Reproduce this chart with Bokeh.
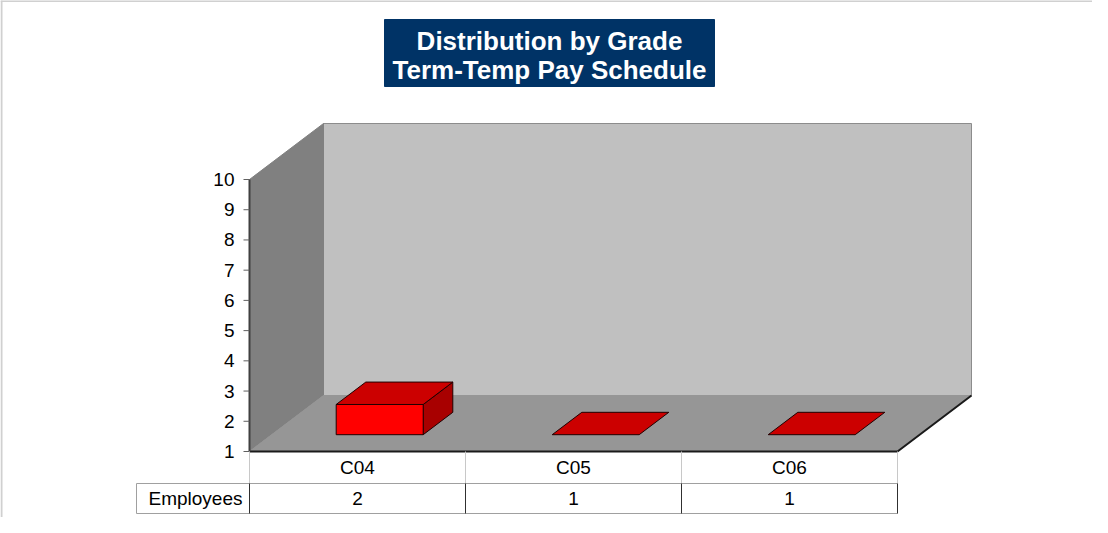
from bokeh.plotting import figure
from bokeh.models import Range1d
from bokeh.core.properties import value
from bokeh.embed import file_html
from bokeh.resources import INLINE

# ---- data ----
categories = ["C04", "C05", "C06"]
employees = [2, 1, 1]
y_ticks = [1, 2, 3, 4, 5, 6, 7, 8, 9, 10]
title_lines = ["Distribution by Grade", "Term-Temp Pay Schedule"]
row_label = "Employees"
y_min, y_max = 1, 10

# ---- layout (page pixels -> data units) ----
W, H = 1092, 517
OX, OY = 0, 0                   # page offset of the figure
X0, PXU = 249.0, 216.0          # x=0 at page px 249, 216 px per category
Y0, PYU = 451.0, 272.0 / 9.0    # y=1 at page py 451


def dx(px):
    return (px - X0) / PXU


def dy(py):
    return y_min + (Y0 - py) / PYU


n = len(categories)
DX = 74.0 / PXU     # depth offset in x
DY = 56.0 / PYU     # depth offset in y
F0, F1 = 0.30, 0.70  # bar depth position (fraction of depth)
BW = 87.0 / PXU      # bar width

FONT = value("Liberation Sans")

p = figure(width=W, height=H, output_backend="svg", toolbar_location=None,
           x_range=Range1d(dx(OX), dx(OX + W)), y_range=Range1d(dy(OY + H), dy(OY)),
           x_axis_location=None, y_axis_location=None, min_border=0)
p.grid.visible = False
p.outline_line_color = None
p.background_fill_color = "white"
p.border_fill_color = "white"

# outer light border (top & left)
p.segment(x0=[dx(OX), dx(OX + 1)], y0=[dy(OY + 0.5), dy(OY)],
          x1=[dx(OX + W), dx(OX + 1)], y1=[dy(OY + 0.5), dy(OY + H)],
          line_color="#D0D0D0", line_width=2)

# ---- walls and floor ----
p.patch([DX, n + DX, n + DX, DX], [y_min + DY, y_min + DY, y_max + DY, y_max + DY],
        fill_color="#C0C0C0", line_color="#8C8C8C", line_width=1)
p.patch([0, DX, DX, 0], [y_min, y_min + DY, y_max + DY, y_max],
        fill_color="#808080", line_color="#808080", line_width=1)
p.patch([0, n, n + DX, DX], [y_min, y_min, y_min + DY, y_min + DY],
        fill_color="#969696", line_color="#969696", line_width=1)
# floor front and right edges
p.line([0, n, n + DX], [y_min, y_min, y_min + DY], line_color="#1A1A1A", line_width=2)

# ---- bars ----
front_x, front_y, top_x, top_y, side_x, side_y = [], [], [], [], [], []
for i, v in enumerate(employees):
    c = i + 0.5 + F0 * DX
    l, r = c - BW / 2, c + BW / 2
    b, t = y_min + F0 * DY, v + F0 * DY
    ddx, ddy = (F1 - F0) * DX, (F1 - F0) * DY
    if v > y_min:
        front_x.append([l, r, r, l])
        front_y.append([b, b, t, t])
        side_x.append([r, r + ddx, r + ddx, r])
        side_y.append([b, b + ddy, t + ddy, t])
    top_x.append([l, r, r + ddx, l + ddx])
    top_y.append([t, t, t + ddy, t + ddy])

p.patches(side_x, side_y, fill_color="#A80000", line_color="#200000", line_width=1)
p.patches(front_x, front_y, fill_color="#FF0000", line_color="#200000", line_width=1)
p.patches(top_x, top_y, fill_color="#CC0000", line_color="#200000", line_width=1)

# ---- y axis ----
p.segment(x0=[0], y0=[y_min], x1=[0], y1=[y_max], line_color="#404040", line_width=2)
p.segment(x0=[dx(243)] * len(y_ticks), y0=y_ticks, x1=[0] * len(y_ticks), y1=y_ticks,
          line_color="#606060", line_width=1)
p.text(x=[dx(234)] * len(y_ticks), y=y_ticks, text=[str(t) for t in y_ticks],
       text_align="right", text_baseline="middle", text_font=FONT,
       text_font_size="19px", text_color="#000000")

# ---- data table ----
r0, r1, r2 = y_min, dy(483), dy(513)
left = dx(136)
# header row separators (light)
p.segment(x0=list(range(n + 1)), y0=[r0] * (n + 1), x1=list(range(n + 1)), y1=[r1] * (n + 1),
          line_color="#C8C8C8", line_width=1)
# horizontal lines
p.segment(x0=[left, left], y0=[r1, r2], x1=[n, n], y1=[r1, r2], line_color="#A0A0A0", line_width=1)
p.segment(x0=[left], y0=[r1], x1=[left], y1=[r2], line_color="#A0A0A0", line_width=1)
# data row separators (dark)
p.segment(x0=list(range(n + 1)), y0=[r1] * (n + 1), x1=list(range(n + 1)), y1=[r2] * (n + 1),
          line_color="#303030", line_width=1)

p.text(x=[i + 0.5 for i in range(n)], y=[dy(467)] * n, text=categories,
       text_align="center", text_baseline="middle", text_font=FONT,
       text_font_size="19px", text_color="#000000")
p.text(x=[i + 0.5 for i in range(n)], y=[dy(498)] * n, text=[str(v) for v in employees],
       text_align="center", text_baseline="middle", text_font=FONT,
       text_font_size="19px", text_color="#000000")
p.text(x=[dx(195)], y=[dy(498)], text=[row_label],
       text_align="center", text_baseline="middle", text_font=FONT,
       text_font_size="19px", text_color="#000000")

# ---- title box ----
p.quad(left=[dx(384)], right=[dx(714)], top=[dy(19)], bottom=[dy(86)],
       fill_color="#003366", line_color="#003366")
p.text(x=[dx(549)] * 2, y=[dy(40), dy(69)], text=title_lines,
       text_align="center", text_baseline="middle", text_font=FONT,
       text_font_size="26px", text_font_style="bold", text_color="#FFFFFF")

open("out.html", "w").write(file_html(p, INLINE))
